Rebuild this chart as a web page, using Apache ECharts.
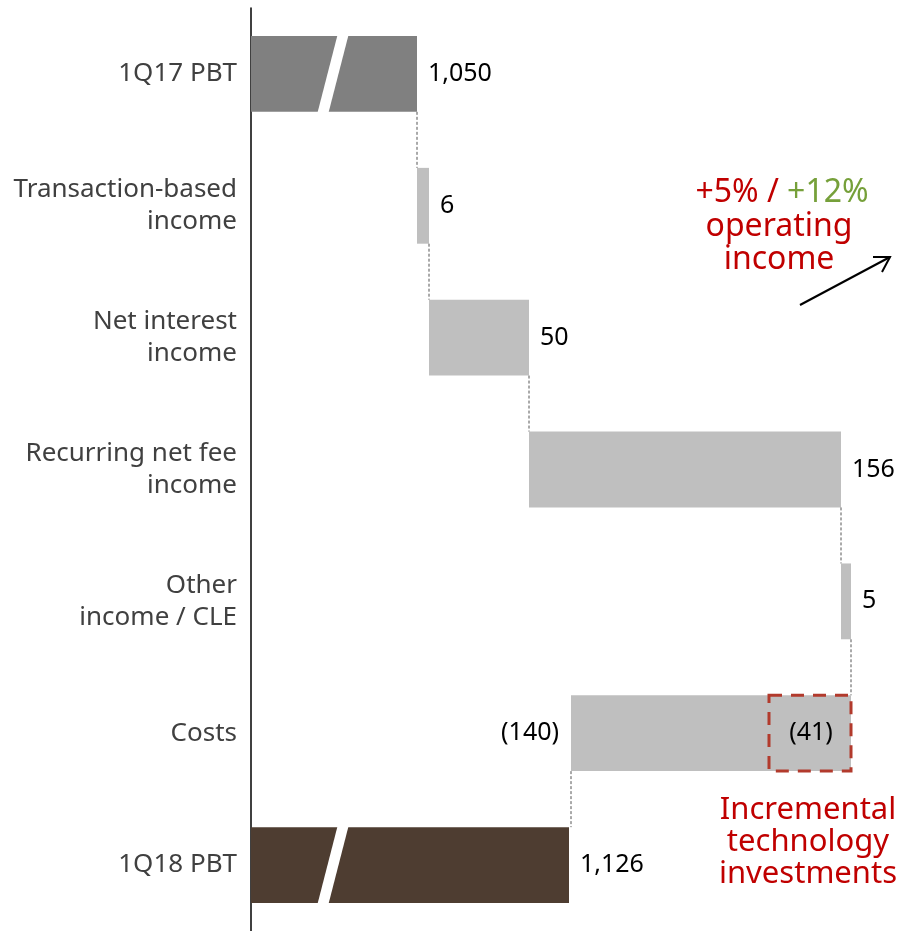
<!DOCTYPE html>
<html>
<head>
<meta charset="utf-8">
<script src="https://cdn.jsdelivr.net/npm/echarts@6/dist/echarts.min.js"></script>
<style>
html,body{margin:0;padding:0;background:#fff;}
#chart{width:901px;height:931px;}
</style>
</head>
<body>
<div id="chart"></div>
<script>
var categories = ['1Q17 PBT', 'Transaction-based\nincome', 'Net interest\nincome', 'Recurring net fee\nincome', 'Other\nincome / CLE', 'Costs', '1Q18 PBT'];
var values = [1050, 6, 50, 156, 5, -140, 1126];
var kinds = ['total', 'delta', 'delta', 'delta', 'delta', 'delta', 'total'];
var valueLabels = ['1,050', '6', '50', '156', '5', '(140)', '1,126'];
var highlightValue = 41;
var highlightLabel = '(41)';

var FONT = '"Noto Sans", sans-serif';
var AXIS_MIN = 967, AXIS_MAX = 1292;
var BREAK_AT = 1008;

var rows = [];
var running = 0;
for (var i = 0; i < values.length; i++) {
  var start, end;
  if (kinds[i] === 'total') { start = AXIS_MIN; end = values[i]; running = values[i]; }
  else { start = running; end = running + values[i]; running = end; }
  rows.push([i, start, end, values[i]]);
}
var costIdx = 5;
var hlEnd = rows[costIdx][1];
var hlStart = hlEnd - highlightValue;

var chart = echarts.init(document.getElementById('chart'));

function renderItem(params, api) {
  var idx = api.value(0);
  var s = api.value(1), e = api.value(2);
  var v = api.value(3);
  var band = api.size([0, 1])[1];
  var h = band * 0.575;
  var pS = api.coord([s, idx]);
  var pE = api.coord([e, idx]);
  var x0 = Math.min(pS[0], pE[0]), x1 = Math.max(pS[0], pE[0]);
  var yc = pS[1];
  var kind = kinds[idx];
  var color = kind === 'total' ? (idx === 0 ? '#808080' : '#4e3d31') : '#bfbfbf';
  var children = [{
    type: 'rect',
    shape: { x: x0, y: yc - h / 2, width: x1 - x0, height: h },
    style: { fill: color }
  }];
  if (kind === 'total') {
    var a = api.coord([BREAK_AT - 5, idx]), b = api.coord([BREAK_AT + 5, idx]);
    var w = 11;
    children.push({
      type: 'polygon',
      shape: { points: [[b[0] - w / 2, yc - h / 2 - 1], [b[0] + w / 2, yc - h / 2 - 1], [a[0] + w / 2, yc + h / 2 + 1], [a[0] - w / 2, yc + h / 2 + 1]] },
      style: { fill: '#ffffff' }
    });
  }
  var lab = valueLabels[idx];
  if (v < 0) {
    children.push({ type: 'text', style: { text: lab, x: x0 - 12, y: yc, align: 'right', verticalAlign: 'middle', font: '25px ' + FONT, fill: '#000' } });
  } else {
    children.push({ type: 'text', style: { text: lab, x: x1 + 11, y: yc, align: 'left', verticalAlign: 'middle', font: '25px ' + FONT, fill: '#000' } });
  }
  if (idx < categories.length - 1) {
    var nextC = api.coord([e, idx + 1]);
    children.push({
      type: 'line',
      shape: { x1: pE[0], y1: yc + h / 2, x2: pE[0], y2: nextC[1] - h / 2 },
      style: { stroke: '#555', lineWidth: 1, lineDash: [3, 2] }
    });
  }
  if (idx === costIdx) {
    var q0 = api.coord([hlStart, idx]), q1 = api.coord([hlEnd, idx]);
    children.push({
      type: 'rect',
      shape: { x: q0[0], y: yc - h / 2, width: q1[0] - q0[0], height: h },
      style: { fill: null, stroke: '#b23a2c', lineWidth: 3, lineDash: [13, 9] }
    });
    children.push({ type: 'text', style: { text: highlightLabel, x: (q0[0] + q1[0]) / 2 + 1, y: yc, align: 'center', verticalAlign: 'middle', font: '25px ' + FONT, fill: '#000' } });
  }
  return { type: 'group', children: children };
}

chart.setOption({
  animation: false,
  grid: { left: 251, width: 650, top: 8, height: 926, containLabel: false },
  xAxis: { type: 'value', min: AXIS_MIN, max: AXIS_MAX, show: false },
  yAxis: {
    type: 'category', data: categories, inverse: true,
    axisLine: { show: true, lineStyle: { color: '#000', width: 1.5 } },
    axisTick: { show: false },
    axisLabel: { color: '#404040', fontSize: 26, fontFamily: FONT, lineHeight: 32, margin: 14, align: 'right' }
  },
  series: [{
    type: 'custom',
    renderItem: renderItem,
    encode: { x: [1, 2], y: 0 },
    data: rows,
    clip: false
  }],
  graphic: [
    { type: 'text', x: 782, y: 193, style: { text: '{r|+5% / }{g|+12%}', align: 'center', verticalAlign: 'middle', rich: { r: { fill: '#c00000', font: '32px ' + FONT }, g: { fill: '#76a03a', font: '32px ' + FONT } } } },
    { type: 'text', x: 779, y: 243, style: { text: 'operating\nincome', fill: '#c00000', font: '32px ' + FONT, align: 'center', verticalAlign: 'middle', lineHeight: 33 } },
    { type: 'line', shape: { x1: 800, y1: 305, x2: 890, y2: 257 }, style: { stroke: '#000', lineWidth: 2 } },
    { type: 'polyline', shape: { points: [[873, 257], [890, 257], [882, 272]] }, style: { stroke: '#000', lineWidth: 2, fill: null } },
    { type: 'text', x: 808, y: 842, style: { text: 'Incremental\ntechnology\ninvestments', fill: '#c00000', font: '31px ' + FONT, align: 'center', verticalAlign: 'middle', lineHeight: 32 } }
  ]
});
</script>
</body>
</html>
